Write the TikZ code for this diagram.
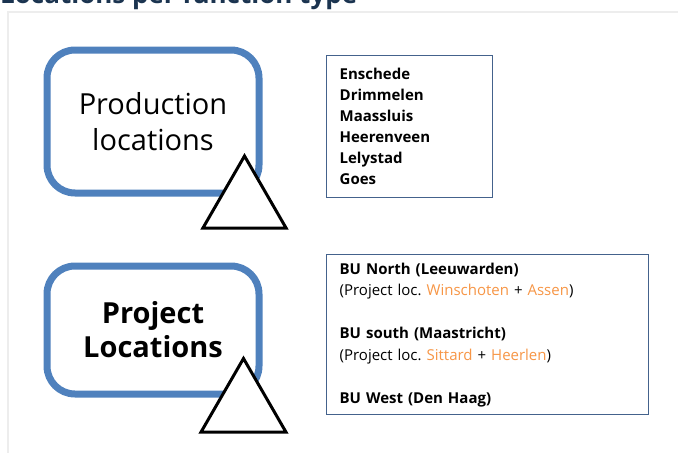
\documentclass[tikz,border=0pt]{standalone}
\usepackage{fontspec}
\setmainfont{Open Sans}
\usetikzlibrary{shapes.geometric,positioning}
\definecolor{officeblue}{RGB}{79,129,189}
\definecolor{listblue}{RGB}{68,98,140}
\definecolor{locorange}{RGB}{247,150,70}
\definecolor{titlenavy}{RGB}{27,52,80}

\begin{document}
\begin{tikzpicture}[
        x=1pt, y=-1pt,
        typebox/.style={draw=officeblue, line width=7pt, rounded corners=28pt, fill=white, minimum width=212pt, align=center, font=\fontsize{29}{36}\selectfont},
        listbox/.style={draw=listblue, line width=1.3pt, fill=white, anchor=north west, align=left, inner xsep=13pt},
        marker/.style={draw, line width=3pt, fill=white, regular polygon, regular polygon sides=3, inner sep=0pt}
    ]

        \useasboundingbox (0,0) rectangle (678,453);
        \draw[black!7, line width=2pt] (678,12) -- (8,12) -- (8,453);
        \node[anchor=base west, inner sep=0pt, text=titlenavy, font=\fontsize{26}{30}\selectfont\bfseries] (title) at (0,3.5) {Locations per function type};

        \node[typebox, minimum height=143pt] (prod) at (153,121.5) {Production\\locations};
        \node[marker, minimum size=96pt] (prodmark) at (244.5,204) {};

        \node[typebox, minimum height=128pt, font=\fontsize{29}{34}\selectfont\bfseries] (proj) at (153,330) {Project\\Locations};
        \node[marker, minimum size=98pt] (projmark) at (243.5,407.5) {};

        \node[listbox, text width=140pt, minimum height=142pt, inner ysep=11pt, font=\fontsize{15}{21}\selectfont\bfseries] (prodlist) at (326,55) {Enschede\\Drimmelen\\Maassluis\\Heerenveen\\Lelystad\\Goes};

        \node[listbox, text width=296pt, minimum height=160pt, inner ysep=8pt, font=\fontsize{15}{21.5}\selectfont] (projlist) at (326,254) {\textbf{BU North (Leeuwarden)}\\(Project loc.\ \textcolor{locorange}{Winschoten} + \textcolor{locorange}{Assen})\\[21.5pt]\textbf{BU south (Maastricht)}\\(Project loc.\ \textcolor{locorange}{Sittard} + \textcolor{locorange}{Heerlen})\\[21.5pt]\textbf{BU West (Den Haag)}};

    \end{tikzpicture}
\end{document}
